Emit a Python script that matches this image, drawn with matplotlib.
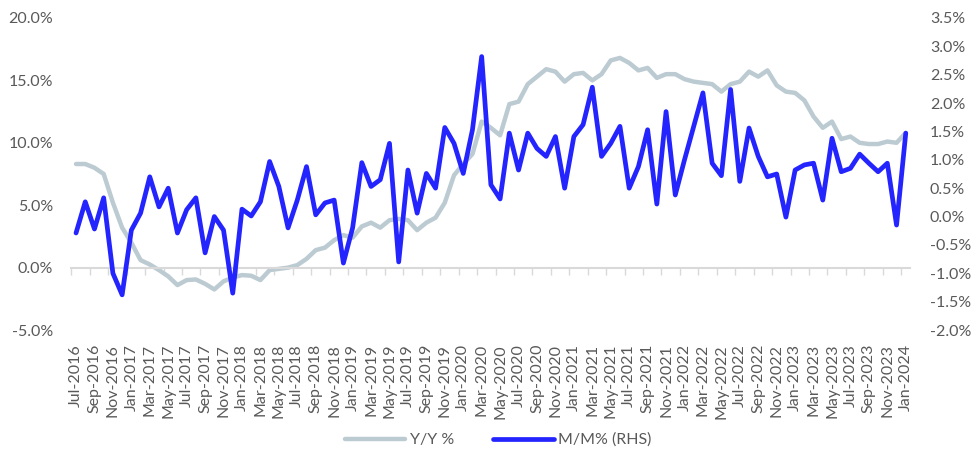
import matplotlib
matplotlib.use("Agg")
import matplotlib.pyplot as plt
import numpy as np
import pandas as pd
from matplotlib.ticker import FuncFormatter

plt.rcParams["font.family"] = ["Lato", "DejaVu Sans"]

months = pd.date_range("2016-07-01", "2024-01-01", freq="MS")
labels = [m.strftime("%b-%Y") for m in months]

# Y/Y % (left axis)
yoy = [8.3, 8.3, 8.0, 7.5, 5.2, 3.2, 2.0, 0.6, 0.25, -0.2, -0.7, -1.4,
       -1.0, -0.95, -1.3, -1.75, -1.1, -0.8, -0.6, -0.65, -1.0, -0.2, -0.1, 0.0,
       0.2, 0.7, 1.4, 1.6, 2.2, 2.6, 2.4, 3.3, 3.6, 3.2, 3.8, 3.9,
       3.8, 3.0, 3.6, 4.0, 5.2, 7.4, 8.3, 9.1, 11.7, 11.2, 10.6, 13.1,
       13.3, 14.7, 15.3, 15.9, 15.7, 14.9, 15.5, 15.6, 15.0, 15.5, 16.6, 16.8,
       16.4, 15.8, 16.0, 15.2, 15.5, 15.5, 15.1, 14.9, 14.8, 14.7, 14.1, 14.7,
       14.9, 15.7, 15.3, 15.8, 14.6, 14.1, 14.0, 13.4, 12.1, 11.2, 11.7, 10.3,
       10.5, 10.0, 9.9, 9.9, 10.1, 10.0, 10.8]

# M/M % (right axis)
mom = [-0.29, 0.26, -0.22, 0.33, -1.0, -1.38, -0.24, 0.06, 0.70, 0.17, 0.50, -0.29,
       0.12, 0.33, -0.64, 0.0, -0.24, -1.35, 0.13, 0.01, 0.26, 0.97, 0.53, -0.20,
       0.29, 0.88, 0.03, 0.24, 0.29, -0.82, -0.20, 0.95, 0.53, 0.65, 1.29, -0.80,
       0.82, 0.06, 0.76, 0.50, 1.57, 1.29, 0.76, 1.53, 2.82, 0.56, 0.31, 1.47,
       0.82, 1.47, 1.20, 1.06, 1.41, 0.50, 1.41, 1.62, 2.28, 1.06, 1.29, 1.59,
       0.50, 0.88, 1.53, 0.22, 1.85, 0.38, 1.00, 1.59, 2.18, 0.94, 0.72, 2.24,
       0.62, 1.56, 1.06, 0.70, 0.75, -0.01, 0.82, 0.91, 0.94, 0.29, 1.38, 0.79,
       0.85, 1.10, 0.94, 0.79, 0.94, -0.15, 1.47]

n = len(labels)
x = np.arange(n)
txt = "#595959"
grid_c = "#d9d9d9"
pct = FuncFormatter(lambda v, p: f"{v:.1f}%")

fig = plt.figure(figsize=(9.77, 4.53), dpi=100)
ax = fig.add_axes([0.0731, 0.2715, 0.8587, 0.6888])
ax2 = ax.twinx()

l1, = ax.plot(x, yoy, color="#bccbd2", lw=3.2, solid_joinstyle="round",
              solid_capstyle="round", label="Y/Y %")
l2, = ax2.plot(x, mom, color="#2424ff", lw=3.4, solid_joinstyle="round",
               solid_capstyle="round", label="M/M% (RHS)")

ax.set_xlim(-0.5, n - 0.5)
ax.set_ylim(-5, 20)
ax.set_yticks(np.arange(-5, 20.1, 5))
ax.yaxis.set_major_formatter(pct)
ax2.set_ylim(-2, 3.5)
ax2.set_yticks(np.arange(-2, 3.51, 0.5))
ax2.yaxis.set_major_formatter(pct)

for s in ["top", "left", "right"]:
    ax.spines[s].set_visible(False)
for s in ax2.spines.values():
    s.set_visible(False)
ax.spines["bottom"].set_position(("data", 0))
ax.spines["bottom"].set_color(grid_c)
ax.spines["bottom"].set_linewidth(1.5)

# tick marks between categories along the zero line
ax.set_xticks(np.arange(-0.5, n - 1, 2))
ax.tick_params(axis="x", length=5, width=1, color=grid_c, labelbottom=False)
ax.tick_params(axis="y", length=0, pad=13, labelsize=11.5, labelcolor=txt)
ax2.tick_params(axis="y", length=0, pad=14, labelsize=11.5, labelcolor=txt)

# category labels below the plot area
sec = ax.secondary_xaxis("bottom")
sec.set_xticks(x[::2], labels[::2], rotation=90)
sec.tick_params(length=0, pad=10, labelsize=11.5, labelcolor=txt)
sec.spines["bottom"].set_visible(False)

fig.legend(handles=[l1, l2], loc="center", bbox_to_anchor=(0.51, 1 - 440 / 453),
           ncol=2, frameon=False, fontsize=11.5, labelcolor=txt,
           handlelength=3.8, columnspacing=2.4, handletextpad=0.3)

fig.savefig("out.png", dpi=100)
